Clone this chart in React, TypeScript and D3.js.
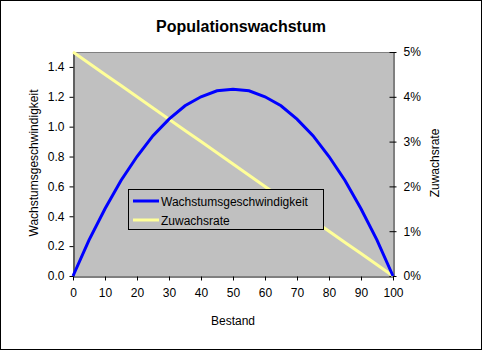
import React, { useEffect, useRef } from "react";
import * as d3 from "d3";

const bestand = [0, 5, 10, 15, 20, 25, 30, 35, 40, 45, 50, 55, 60, 65, 70, 75, 80, 85, 90, 95, 100];
const wachstum = [0, 0.24, 0.45, 0.64, 0.8, 0.94, 1.05, 1.14, 1.2, 1.24, 1.25, 1.24, 1.2, 1.14, 1.05, 0.94, 0.8, 0.64, 0.45, 0.24, 0];
const zuwachs = [0.05, 0.0475, 0.045, 0.0425, 0.04, 0.0375, 0.035, 0.0325, 0.03, 0.0275, 0.025, 0.0225, 0.02, 0.0175, 0.015, 0.0125, 0.01, 0.0075, 0.005, 0.0025, 0];
const xTicks = [0, 10, 20, 30, 40, 50, 60, 70, 80, 90, 100];
const leftTicks = [0, 0.2, 0.4, 0.6, 0.8, 1.0, 1.2, 1.4];
const rightTicks = [0, 0.01, 0.02, 0.03, 0.04, 0.05];
const seriesNames = ["Wachstumsgeschwindigkeit", "Zuwachsrate"];

const App = () => {
  const svgRef = useRef<SVGSVGElement>(null);

  useEffect(() => {
    const width = 483;
    const height = 351;
    const left = 73;
    const right = 393;
    const top = 52;
    const bottom = 276;
    const font = "'Liberation Sans', Arial, sans-serif";

    const svg = d3.select(svgRef.current);
    svg.selectAll("*").remove();

    svg.append("rect").attr("width", width).attr("height", height).attr("fill", "#fff");
    svg
      .append("rect")
      .attr("x", 0.5)
      .attr("y", 0.5)
      .attr("width", 481)
      .attr("height", 349)
      .attr("fill", "none")
      .attr("stroke", "#000");

    const x = d3.scaleLinear().domain([0, 100]).range([left, right]);
    const yL = d3.scaleLinear().domain([0, 1.5]).range([bottom, top]);
    const yR = d3.scaleLinear().domain([0, 0.05]).range([bottom, top]);

    // plot area
    svg
      .append("rect")
      .attr("x", left)
      .attr("y", top)
      .attr("width", right - left)
      .attr("height", bottom - top)
      .attr("fill", "#c0c0c0");
    svg
      .append("line")
      .attr("x1", left)
      .attr("x2", right)
      .attr("y1", top + 0.5)
      .attr("y2", top + 0.5)
      .attr("stroke", "#808080");

    const styleAxis = (g: any) => {
      g.select(".domain").attr("stroke", "#000");
      g.selectAll(".tick line").attr("stroke", "#000");
      g.selectAll(".tick text")
        .attr("fill", "#000")
        .style("font-family", font)
        .style("font-size", "12px");
    };

    svg
      .append("g")
      .attr("transform", `translate(0,${bottom + 0.5})`)
      .call(d3.axisBottom(x).tickValues(xTicks).tickSize(4).tickSizeOuter(0).tickPadding(8))
      .call(styleAxis);

    svg
      .append("g")
      .attr("transform", `translate(${left + 0.5},0)`)
      .call(
        d3.axisLeft(yL).tickValues(leftTicks).tickFormat(d3.format(".1f")).tickSize(4).tickSizeOuter(0).tickPadding(5)
      )
      .call(styleAxis);

    // right axis ticks cross the axis line
    svg
      .append("g")
      .attr("transform", `translate(${right + 0.5},0)`)
      .call(
        d3.axisRight(yR).tickValues(rightTicks).tickFormat(d3.format(".0%")).tickSize(3).tickSizeOuter(0).tickPadding(7)
      )
      .call(styleAxis)
      .call((g: any) => g.selectAll(".tick line").attr("x1", -4).attr("x2", 3));

    const lineL = d3
      .line<number>()
      .x((_, i) => x(bestand[i]))
      .y((d) => yL(d));
    const lineR = d3
      .line<number>()
      .x((_, i) => x(bestand[i]))
      .y((d) => yR(d));

    svg
      .append("path")
      .datum(zuwachs)
      .attr("d", lineR)
      .attr("fill", "none")
      .attr("stroke", "#ffff99")
      .attr("stroke-width", 3);

    svg
      .append("path")
      .datum(wachstum)
      .attr("d", lineL)
      .attr("fill", "none")
      .attr("stroke", "#0000ff")
      .attr("stroke-width", 3);

    // title
    svg
      .append("text")
      .attr("x", 241)
      .attr("y", 32)
      .attr("text-anchor", "middle")
      .style("font-family", font)
      .style("font-size", "16px")
      .style("font-weight", "bold")
      .text("Populationswachstum");

    svg
      .append("text")
      .attr("x", 233)
      .attr("y", 325)
      .attr("text-anchor", "middle")
      .style("font-family", font)
      .style("font-size", "12px")
      .text("Bestand");

    svg
      .append("text")
      .attr("transform", `translate(38,163) rotate(-90)`)
      .attr("text-anchor", "middle")
      .style("font-family", font)
      .style("font-size", "12px")
      .text(seriesNames[0]);

    svg
      .append("text")
      .attr("transform", `translate(439,163) rotate(-90)`)
      .attr("text-anchor", "middle")
      .style("font-family", font)
      .style("font-size", "12px")
      .text(seriesNames[1]);

    // legend
    const lg = svg.append("g");
    lg.append("rect")
      .attr("x", 128.5)
      .attr("y", 189.5)
      .attr("width", 195)
      .attr("height", 40)
      .attr("fill", "#c0c0c0")
      .attr("stroke", "#000");
    const colors = ["#0000ff", "#ffff99"];
    seriesNames.forEach((name, i) => {
      const cy = 201 + i * 19;
      lg.append("line")
        .attr("x1", 133)
        .attr("x2", 159)
        .attr("y1", cy)
        .attr("y2", cy)
        .attr("stroke", colors[i])
        .attr("stroke-width", 3);
      lg.append("text")
        .attr("x", 161)
        .attr("y", cy + 4.5)
        .style("font-family", font)
        .style("font-size", "12px")
        .text(name);
    });
  }, []);

  return <svg ref={svgRef} width={483} height={351} style={{ position: "absolute", left: 0, top: 0 }} />;
};

export default App;
